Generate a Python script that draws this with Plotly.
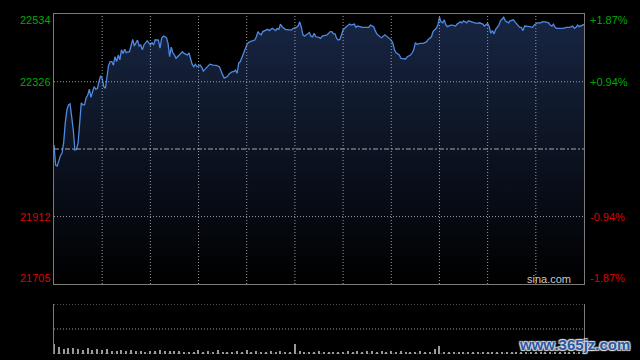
import plotly.graph_objects as go

# ---- data ----
minutes = [0, 1, 2, 3, 4, 5, 6, 7, 8, 9, 10, 11, 12, 13, 14, 15, 16, 17, 18, 19,
           20, 21, 22, 23, 24, 25, 26, 27, 28, 29, 30, 31, 32, 33, 34, 35, 36, 37, 38, 39,
           40, 41, 42, 43, 44, 45, 46, 47, 48, 49, 50, 51, 52, 53, 54, 55, 56, 58, 59, 60,
           61, 62, 63, 65, 66, 67, 68, 70, 71, 72, 73, 74, 75, 76, 78, 80, 81, 83, 84, 85,
           86, 87, 88, 89, 91, 92, 93, 94, 96, 97, 99, 101, 103, 104, 105, 106, 108, 109, 111, 112,
           113, 114, 115, 116, 117, 118, 120, 121, 122, 123, 125, 126, 127, 128, 129, 130, 131, 133, 134, 136,
           138, 139, 140, 141, 142, 144, 146, 148, 149, 151, 152, 153, 154, 155, 156, 158, 159, 160, 161, 162,
           163, 165, 166, 167, 169, 170, 172, 173, 174, 175, 176, 177, 178, 179, 180, 181, 183, 184, 185, 187,
           188, 189, 192, 194, 196, 197, 199, 200, 201, 203, 204, 206, 207, 209, 210, 211, 212, 213, 215, 216,
           217, 219, 220, 222, 223, 224, 225, 226, 228, 230, 232, 233, 235, 236, 238, 239, 240, 241, 242, 243,
           244, 245, 247, 248, 250, 251, 253, 254, 255, 257, 258, 260, 261, 263, 265, 267, 268, 270, 271, 272,
           273, 274, 275, 277, 278, 280, 281, 283, 284, 286, 287, 289, 290, 291, 292, 293, 295, 296, 298, 299,
           301, 303, 304, 306, 308, 309, 310, 311, 312, 313, 315, 317, 319, 321, 323, 324, 325, 326, 327, 329,
           330]
prices = [22132, 22070, 22067, 22086, 22099, 22107, 22138, 22199, 22239, 22255, 22258, 22219, 22178, 22116, 22119, 22138, 22188, 22261, 22255, 22255,
          22276, 22285, 22303, 22278, 22295, 22311, 22303, 22305, 22326, 22344, 22337, 22311, 22306, 22342, 22377, 22388, 22388, 22377, 22403, 22388,
          22408, 22393, 22424, 22413, 22426, 22415, 22418, 22418, 22434, 22456, 22436, 22444, 22454, 22436, 22439, 22424, 22439, 22452, 22444, 22439,
          22446, 22439, 22455, 22454, 22429, 22459, 22466, 22462, 22444, 22403, 22432, 22415, 22408, 22398, 22408, 22418, 22413, 22408, 22415, 22398,
          22380, 22372, 22380, 22372, 22377, 22370, 22359, 22364, 22377, 22380, 22377, 22376, 22372, 22357, 22347, 22337, 22342, 22350, 22357, 22357,
          22362, 22352, 22383, 22388, 22398, 22413, 22439, 22446, 22449, 22451, 22454, 22464, 22480, 22473, 22470, 22480, 22483, 22487, 22483, 22490,
          22483, 22490, 22487, 22503, 22495, 22487, 22485, 22485, 22490, 22493, 22497, 22510, 22493, 22470, 22466, 22475, 22477, 22466, 22464, 22475,
          22464, 22462, 22459, 22466, 22470, 22470, 22480, 22480, 22473, 22473, 22459, 22454, 22456, 22470, 22485, 22490, 22500, 22503, 22500, 22503,
          22493, 22497, 22493, 22492, 22493, 22500, 22495, 22483, 22473, 22464, 22461, 22470, 22466, 22456, 22454, 22444, 22424, 22415, 22408, 22398,
          22398, 22396, 22403, 22408, 22415, 22424, 22446, 22441, 22444, 22444, 22449, 22456, 22464, 22480, 22490, 22500, 22524, 22510, 22507, 22516,
          22500, 22495, 22500, 22500, 22497, 22503, 22510, 22507, 22513, 22507, 22513, 22509, 22507, 22505, 22507, 22503, 22497, 22505, 22495, 22475,
          22483, 22473, 22487, 22500, 22513, 22524, 22513, 22507, 22513, 22516, 22510, 22500, 22493, 22493, 22483, 22497, 22497, 22495, 22493, 22500,
          22507, 22507, 22510, 22510, 22507, 22500, 22497, 22503, 22493, 22490, 22490, 22490, 22493, 22493, 22497, 22490, 22493, 22500, 22495, 22500,
          22502]

vol_minutes = list(range(0, 331, 3))
volumes = [2.0, 1.4, 1.0, 1.3, 1.2, 1.1, 0.9, 1.2, 0.8, 1.0, 0.8, 1.1, 0.6, 0.7, 0.8, 0.6, 0.8, 0.6, 0.7, 0.5,
           0.7, 0.6, 0.8, 0.6, 0.7, 0.6, 0.7, 0.4, 0.5, 0.4, 0.9, 0.5, 0.6, 0.4, 0.8, 0.4, 0.5, 0.4, 0.6, 0.5,
           0.9, 0.5, 0.6, 0.4, 0.5, 0.6, 0.4, 0.7, 0.5, 0.4, 2.0, 0.6, 0.5, 0.4, 0.5, 0.6, 0.4, 0.4, 0.5, 0.4,
           0.5, 0.6, 0.5, 0.6, 0.5, 0.6, 0.7, 0.5, 0.6, 0.5, 0.6, 0.5, 0.6, 0.4, 0.5, 0.4, 0.6, 0.5, 0.4, 1.0,
           1.6, 0.4, 0.3, 0.4, 0.3, 0.4, 0.3, 0.4, 0.5, 0.3, 0.4, 0.3, 0.4, 0.5, 0.4, 0.3, 0.4, 0.4, 0.3, 0.4,
           0.4, 0.5, 0.4, 0.3, 0.4, 0.3, 0.4, 0.3, 0.4, 0.5, 0.6]

prev_close = 22119.5
price_ticks = [22534, 22326, 21912, 21705]
left_labels = ["22534", "22326", "21912", "21705"]
right_labels = ["+1.87%", "+0.94%", "-0.94%", "-1.87%"]
grid_prices = [22326, 21912]
grid_minutes = list(range(30, 330, 30))
vol_grid = [0, 5, 10]

# ---- styles ----
GREEN = "#00a800"
RED = "#dd0000"
label_colors = [GREEN, GREEN, RED, RED]
label_yshift = [-6, 0, 0, 6]
FRAME = "#7a7a7a"
GRID = "#9c9c9c"
DOT = "1px,2px"
FONT = "Liberation Sans, Arial, sans-serif"

fig = go.Figure()

fig.add_trace(go.Scatter(
    x=minutes, y=prices, mode="lines",
    line=dict(color="#4f89e0", width=1.3),
    fill="tozeroy",
    fillgradient=dict(type="vertical",
                      colorscale=[[0, "#000000"], [1, "#182644"]],
                      start=price_ticks[-1], stop=price_ticks[0]),
    hoverinfo="skip", xaxis="x", yaxis="y"))

fig.add_trace(go.Bar(
    x=vol_minutes, y=volumes, width=0.7,
    marker=dict(color="#9a9a9a", line=dict(width=0)),
    hoverinfo="skip", xaxis="x2", yaxis="y2"))

shapes = []
for m in grid_minutes:
    shapes.append(dict(type="line", xref="x", yref="y domain", x0=m, x1=m, y0=0, y1=1,
                       line=dict(color=GRID, width=1, dash=DOT), layer="above"))
for p in grid_prices:
    shapes.append(dict(type="line", xref="x domain", yref="y", x0=0, x1=1, y0=p, y1=p,
                       line=dict(color=GRID, width=1, dash=DOT), layer="above"))
shapes.append(dict(type="line", xref="x domain", yref="y", x0=0, x1=1, y0=prev_close, y1=prev_close,
                   line=dict(color="#a8a8a8", width=1, dash="5px,2px,2px,2px"), layer="above"))
for v in vol_grid:
    shapes.append(dict(type="line", xref="x2 domain", yref="y2", x0=0, x1=1, y0=v, y1=v,
                       line=dict(color=GRID, width=1, dash=DOT), layer="above"))

annotations = []
for val, lt, rt, col, ys in zip(price_ticks, left_labels, right_labels, label_colors, label_yshift):
    annotations.append(dict(xref="paper", yref="y", x=0, y=val, text=lt, showarrow=False,
                            xanchor="right", yanchor="middle", xshift=-1, yshift=ys,
                            font=dict(family=FONT, size=11, color=col)))
    annotations.append(dict(xref="paper", yref="y", x=1, y=val, text=rt, showarrow=False,
                            xanchor="left", yanchor="middle", xshift=4, yshift=ys,
                            font=dict(family=FONT, size=11, color=col)))
annotations.append(dict(xref="x domain", yref="y domain", x=0.979, y=0.017, text="sina.com",
                        showarrow=False, xanchor="right", yanchor="middle",
                        font=dict(family=FONT, size=11, color="#c8c8c8")))
annotations.append(dict(xref="paper", yref="paper", x=0.983, y=0.027, text="<b>www.365jz.com</b>",
                        showarrow=False, xanchor="center", yanchor="middle",
                        font=dict(family=FONT, size=15, color="#2a58a6",
                                  shadow="1px 1px 1px #ddd, -1px -1px 1px #ddd, 1px -1px 1px #ddd, -1px 1px 1px #ddd")))

fig.update_layout(
    width=640, height=360,
    margin=dict(l=54, r=56, t=14, b=6),
    paper_bgcolor="#000000", plot_bgcolor="#000000",
    showlegend=False, hovermode=False, bargap=0,
    shapes=shapes, annotations=annotations,
    xaxis=dict(domain=[0, 1], range=[0, 330], anchor="y", showgrid=False, zeroline=False,
               showticklabels=False, ticks="", showline=True, mirror=True, linecolor=FRAME, linewidth=1),
    yaxis=dict(domain=[70 / 340, 1], range=[price_ticks[-1], price_ticks[0]], anchor="x",
               showgrid=False, zeroline=False, showticklabels=False, ticks="",
               showline=True, mirror=True, linecolor=FRAME, linewidth=1),
    xaxis2=dict(domain=[0, 1], range=[0, 330], anchor="y2", showgrid=False, zeroline=False,
                showticklabels=False, ticks="", showline=False),
    yaxis2=dict(domain=[0, 50 / 340], range=[0, 10], anchor="x2", showgrid=False, zeroline=False,
                showticklabels=False, ticks="", showline=True, mirror=True, linecolor=FRAME, linewidth=1),
)

fig.write_html("out.html", config={"displayModeBar": False})
